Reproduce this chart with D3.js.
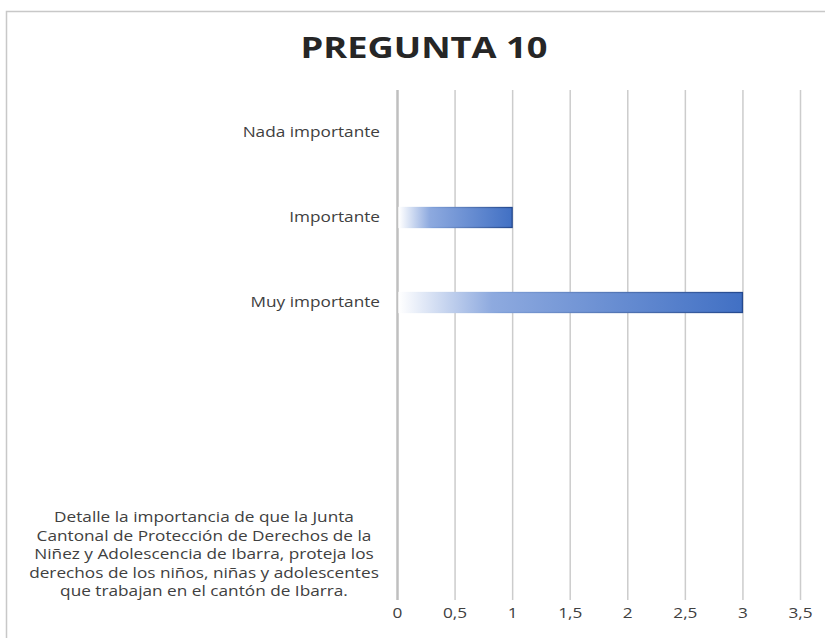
<!DOCTYPE html>
<html>
<head>
  <meta charset="utf-8">
  <style>
    body { margin: 0; background: #fff; }
    .cat-label, .tick text {
      font-family: "Open Sans", sans-serif;
      font-size: 14px;
      fill: #404040;
    }
    .title {
      font-family: "Open Sans", sans-serif;
      font-weight: bold;
      font-size: 29px;
      fill: #262626;
    }
  </style>
  <script src="https://d3js.org/d3.v7.min.js"></script>
</head>
<body>
  <div id="chartContainer"></div>

  <script>
    // categories from top to bottom (Excel draws them reversed)
    var categories = [
      "Nada importante",
      "Importante",
      "Muy importante",
      "",
      "",
      "Detalle la importancia de que la Junta\nCantonal de Protección de Derechos de la\nNiñez y Adolescencia de Ibarra, proteja los\nderechos de los niños, niñas y adolescentes\nque trabajan en el cantón de Ibarra."
    ];
    var values = [0, 1, 3, null, null, null];
    var xTicks = [0, 0.5, 1, 1.5, 2, 2.5, 3, 3.5];

    var svgWidth = 825, svgHeight = 638;
    var plot = { left: 397, right: 800, top: 90, bottom: 600 };
    var stretch = "scale(1.23,1)"; // the picture's text is wide, like stretched Calibri

    var svg = d3.select("#chartContainer")
      .append("svg")
      .attr("width", svgWidth)
      .attr("height", svgHeight);

    // chart border
    svg.append("rect")
      .attr("x", 6.5).attr("y", 11.5)
      .attr("width", 900).attr("height", 700)
      .attr("fill", "none")
      .attr("stroke", "#c8c8c8")
      .attr("stroke-width", 1.5);

    svg.append("g")
      .attr("transform", "translate(424,58) scale(1.25,1)")
      .append("text")
      .attr("class", "title")
      .attr("text-anchor", "middle")
      .text("PREGUNTA 10");

    var defs = svg.append("defs");
    var grad = defs.append("linearGradient")
      .attr("id", "barFill")
      .attr("x1", "0").attr("x2", "1").attr("y1", "0").attr("y2", "0");
    grad.append("stop").attr("offset", "0").attr("stop-color", "#ffffff");
    grad.append("stop").attr("offset", "0.27").attr("stop-color", "#8eaadf");
    grad.append("stop").attr("offset", "1").attr("stop-color", "#4170c4");

    var gradLine = defs.append("linearGradient")
      .attr("id", "barStroke")
      .attr("x1", "0").attr("x2", "1").attr("y1", "0").attr("y2", "0");
    gradLine.append("stop").attr("offset", "0").attr("stop-color", "#ffffff");
    gradLine.append("stop").attr("offset", "0.3").attr("stop-color", "#7f9fd8");
    gradLine.append("stop").attr("offset", "1").attr("stop-color", "#24498f");

    var xScale = d3.scaleLinear()
      .domain([0, 3.5])
      .range([plot.left, plot.right]);

    var yScale = d3.scaleBand()
      .domain(d3.range(categories.length))
      .range([plot.top, plot.bottom]);

    // vertical gridlines + tick labels
    var xAxis = svg.append("g")
      .attr("transform", "translate(0," + plot.bottom + ")")
      .call(d3.axisBottom(xScale)
        .tickValues(xTicks)
        .tickSize(-(plot.bottom - plot.top))
        .tickPadding(14)
        .tickFormat(function (d) { return String(d).replace(".", ","); }));

    xAxis.select(".domain").remove();
    xAxis.selectAll(".tick line")
      .attr("stroke", "#cccccc")
      .attr("stroke-width", 1.5);
    xAxis.selectAll(".tick text")
      .attr("dy", "0.32em")
      .attr("transform", stretch);
    xAxis.selectAll(".tick").filter(function (d) { return d === 0; })
      .select("line")
      .attr("stroke", "#bfbfbf")
      .attr("stroke-width", 2.5);

    // bars
    var barH = 20;
    svg.selectAll(".bar")
      .data(values.map(function (v, i) { return { i: i, v: v }; })
        .filter(function (d) { return d.v > 0; }))
      .enter()
      .append("rect")
      .attr("class", "bar")
      .attr("x", xScale(0) + 2)
      .attr("y", function (d) { return yScale(d.i) + yScale.bandwidth() / 2 - barH / 2; })
      .attr("width", function (d) { return xScale(d.v) - xScale(0) - 2; })
      .attr("height", barH)
      .attr("fill", "url(#barFill)")
      .attr("stroke", "url(#barStroke)")
      .attr("stroke-width", 1.3);

    // category labels
    var lineH = 18.5;
    categories.forEach(function (label, i) {
      if (!label) return;
      var lines = label.split("\n");
      var cy = yScale(i) + yScale.bandwidth() / 2;
      var multi = lines.length > 1;
      var lx = multi ? 204 : 380;
      var top = cy - (lines.length - 1) * lineH / 2 - (multi ? 3 : 0);
      var t = svg.append("g")
        .attr("transform", "translate(" + lx + "," + top + ") " + stretch)
        .append("text")
        .attr("class", "cat-label")
        .attr("text-anchor", multi ? "middle" : "end");
      lines.forEach(function (ln, k) {
        t.append("tspan")
          .attr("x", 0)
          .attr("dy", k === 0 ? "0.35em" : lineH)
          .text(ln);
      });
    });
  </script>
</body>
</html>
